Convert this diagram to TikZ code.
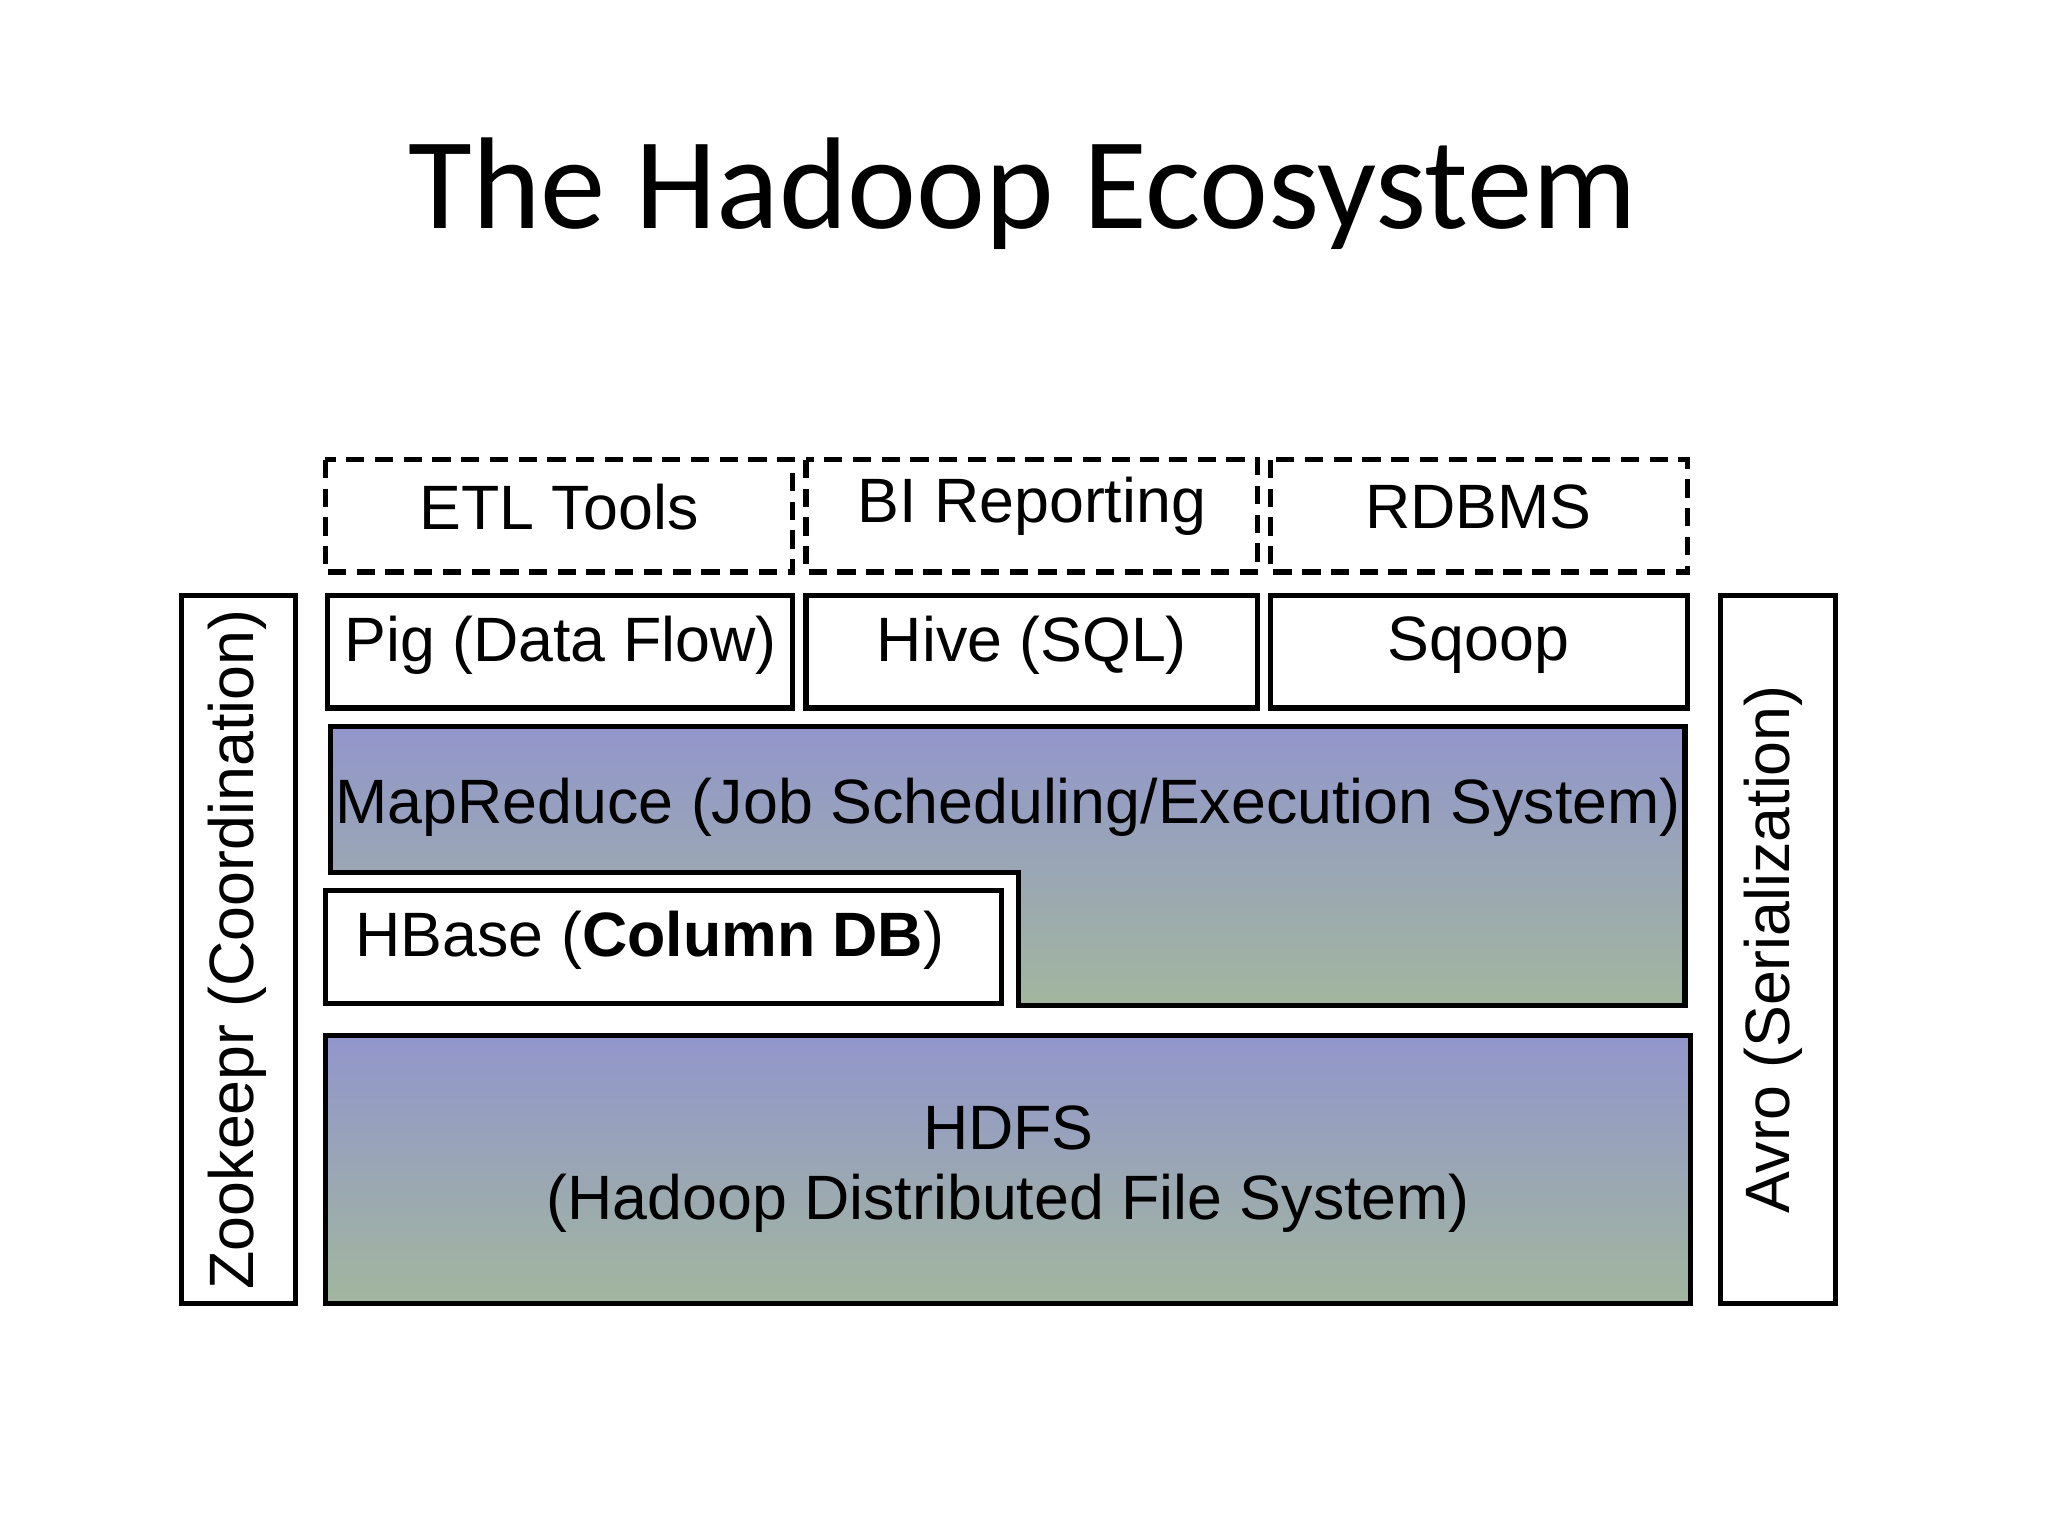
\documentclass[tikz,border=0pt]{standalone}
\usepackage{fontspec}
\setmainfont{Liberation Sans}
\newfontfamily\titlefont{Carlito}
\definecolor{gtop}{RGB}{146,150,204}
\definecolor{gbot}{RGB}{162,182,158}
\begin{document}
\begin{tikzpicture}[x=1pt,y=-1pt,
  box/.style={draw=black,line width=4pt},
  dbox/.style={box,dashed,dash pattern=on 14pt off 8pt},
  lbl/.style={font=\fontsize{48}{56}\selectfont,inner sep=0pt}]
\useasboundingbox[fill=white] (0,0) rectangle (1568,1176);
\node[font=\titlefont\fontsize{100}{110}\selectfont] (title) at (783,148) {The Hadoop Ecosystem};
% dashed row
\draw[dbox] (249,352) rectangle (607,438);
\draw[dbox] (617,352) rectangle (963,438);
\draw[dbox] (973,352) rectangle (1292,438);
\node[lbl] (etl) at (428,388) {ETL Tools};
\node[lbl] (bi) at (790,388) {BI Reporting};
\node[lbl] (rdbms) at (1132,388) {RDBMS};
% second row
\draw[box] (251,456) rectangle (607,542);
\draw[box] (617,456) rectangle (963,542);
\draw[box] (973,456) rectangle (1292,542);
\node[lbl] (pig) at (429,494) {Pig (Data Flow)};
\node[lbl] (hive) at (790,494) {Hive (SQL)};
\node[lbl] (sqoop) at (1132,494) {Sqoop};
% side bars
\draw[box] (139,456) rectangle (226,998);
\draw[box] (1317,456) rectangle (1405,998);
\node[lbl,rotate=90] (zk) at (182,727) {Zookeepr (Coordination)};
\node[lbl,rotate=90] (avro) at (1358,727) {Avro (Serialization)};
% MapReduce
\shade[top color=gtop,bottom color=gbot] (253,556) -- (1290,556) -- (1290,770) -- (780,770) -- (780,668) -- (253,668) -- cycle;
\draw[box,line join=miter] (253,556) -- (1290,556) -- (1290,770) -- (780,770) -- (780,668) -- (253,668) -- cycle;
\node[lbl] (mr) at (772,618) {MapReduce (Job Scheduling/Execution System)};
% HBase
\draw[box,fill=white] (249,682) rectangle (767,768);
\node[lbl,anchor=west] (hbase) at (272,720) {HBase (\textbf{Column DB})};
% HDFS
\shade[top color=gtop,bottom color=gbot] (249,793) rectangle (1294,998);
\draw[box] (249,793) rectangle (1294,998);
\node[lbl,align=center,font=\fontsize{48}{54}\selectfont] (hdfs) at (772,895) {HDFS\\(Hadoop Distributed File System)};
\end{tikzpicture}
\end{document}
